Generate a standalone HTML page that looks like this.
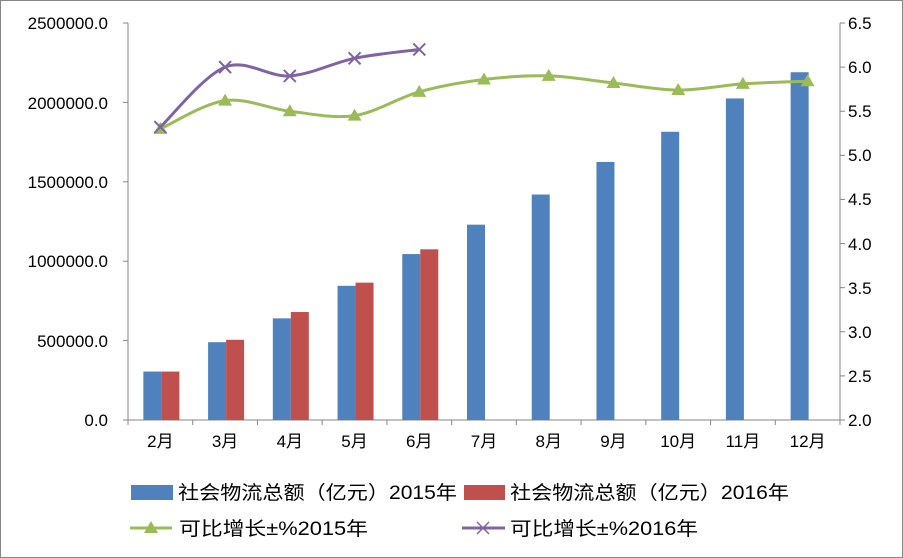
<!DOCTYPE html>
<html><head><meta charset="utf-8"><style>
html,body{margin:0;padding:0;background:#fff}
svg{display:block}
text{font-family:"Liberation Sans","Noto Sans CJK SC",sans-serif;font-size:17px;fill:#000}
.lg{font-size:19px}
</style></head><body>
<svg id="s" width="903" height="558" viewBox="0 0 903 558" xmlns="http://www.w3.org/2000/svg">
<rect x="0.5" y="0.5" width="902" height="557" fill="#fff" stroke="#868686"/>
<g id="g"></g>
<g text-anchor="end">
<text x="108" y="426">0.0</text>
<text x="108" y="347">500000.0</text>
<text x="108" y="267">1000000.0</text>
<text x="108" y="188">1500000.0</text>
<text x="108" y="109">2000000.0</text>
<text x="108" y="29">2500000.0</text>
</g>
<g text-anchor="start">
<text x="848" y="426">2.0</text><text x="848" y="382">2.5</text><text x="848" y="338">3.0</text>
<text x="848" y="294">3.5</text><text x="848" y="250">4.0</text><text x="848" y="205">4.5</text>
<text x="848" y="161">5.0</text><text x="848" y="117">5.5</text><text x="848" y="73">6.0</text>
<text x="848" y="29">6.5</text>
</g>
<g text-anchor="middle" id="xl"></g>
<rect x="131" y="485" width="42" height="15" fill="#4F81BD"/>
<text class="lg" x="178" y="499" textLength="279" lengthAdjust="spacingAndGlyphs">社会物流总额（亿元）2015年</text>
<rect x="464" y="485" width="41" height="15" fill="#C0504D"/>
<text class="lg" x="510" y="499" textLength="279" lengthAdjust="spacingAndGlyphs">社会物流总额（亿元）2016年</text>
<line x1="130" y1="528" x2="172" y2="528" stroke="#9BBB59" stroke-width="3"/>
<polygon points="151,521 158,533 144,533" fill="#9BBB59"/>
<text class="lg" x="179" y="535" textLength="189" lengthAdjust="spacingAndGlyphs">可比增长±%2015年</text>
<line x1="462" y1="528" x2="505" y2="528" stroke="#8064A2" stroke-width="3"/>
<path d="M477,522 L489,534 M489,522 L477,534" stroke="#8064A2" stroke-width="1.5"/>
<text class="lg" x="510" y="535" textLength="188" lengthAdjust="spacingAndGlyphs">可比增长±%2016年</text>
</svg>
<script>
const g=document.getElementById('g'),xl=document.getElementById('xl'),NS='http://www.w3.org/2000/svg';
function el(t,a,p){const e=document.createElementNS(NS,t);for(const k in a)e.setAttribute(k,a[k]);(p||g).appendChild(e);return e;}
const L=128,R=840,T=23,B=420,w=(R-L)/11;
const yl=v=>B-v/2500000*(B-T), yr=v=>B-(v-2)/4.5*(B-T);
el('line',{x1:L,y1:T,x2:L,y2:B,stroke:'#868686'});
el('line',{x1:R,y1:T,x2:R,y2:B,stroke:'#868686'});
el('line',{x1:L,y1:B,x2:R,y2:B,stroke:'#868686'});
for(let i=0;i<=5;i++){const y=yl(i*500000);el('line',{x1:L-5,y1:y,x2:L,y2:y,stroke:'#868686'});}
for(let i=0;i<=9;i++){const y=yr(2+i*0.5);el('line',{x1:R,y1:y,x2:R+5,y2:y,stroke:'#868686'});}
for(let i=0;i<=11;i++){const x=L+i*w;el('line',{x1:x,y1:B,x2:x,y2:B+5,stroke:'#868686'});}
const b15=[305000,490000,640000,845000,1045000,1230000,1420000,1625000,1815000,2025000,2190000];
const b16=[305000,505000,680000,865000,1075000];
b15.forEach((v,i)=>{const c=L+w*(i+.5);el('rect',{x:c-17,y:yl(v),width:18,height:B-yl(v),fill:'#4F81BD'});
 const t=el('text',{x:c,y:447},xl);t.textContent=(i+2)+'月';});
b16.forEach((v,i)=>{const c=L+w*(i+.5);el('rect',{x:c+1,y:yl(v),width:18,height:B-yl(v),fill:'#C0504D'});});
function path(vals){const p=vals.map((v,i)=>[L+w*(i+.5),yr(v)]);let d='M'+p[0];
 for(let i=0;i<p.length-1;i++){const p0=p[i-1]||p[i],p1=p[i],p2=p[i+1],p3=p[i+2]||p2,k=1/6;
 d+=' C'+[p1[0]+(p2[0]-p0[0])*k,p1[1]+(p2[1]-p0[1])*k]+' '+[p2[0]-(p3[0]-p1[0])*k,p2[1]-(p3[1]-p1[1])*k]+' '+p2;}
 return [d,p];}
const gr=[5.3,5.62,5.5,5.45,5.72,5.86,5.9,5.82,5.74,5.81,5.84];
const pu=[5.32,6.0,5.9,6.1,6.2];
let [d,p]=path(gr);el('path',{d,fill:'none',stroke:'#9BBB59','stroke-width':3});
p.forEach(q=>el('polygon',{points:`${q[0]},${q[1]-7} ${q[0]+7},${q[1]+5} ${q[0]-7},${q[1]+5}`,fill:'#9BBB59'}));
[d,p]=path(pu);el('path',{d,fill:'none',stroke:'#8064A2','stroke-width':3});
p.forEach(q=>el('path',{d:`M${q[0]-6},${q[1]-6}L${q[0]+6},${q[1]+6}M${q[0]+6},${q[1]-6}L${q[0]-6},${q[1]+6}`,stroke:'#8064A2','stroke-width':2}));
</script>
</body></html>
